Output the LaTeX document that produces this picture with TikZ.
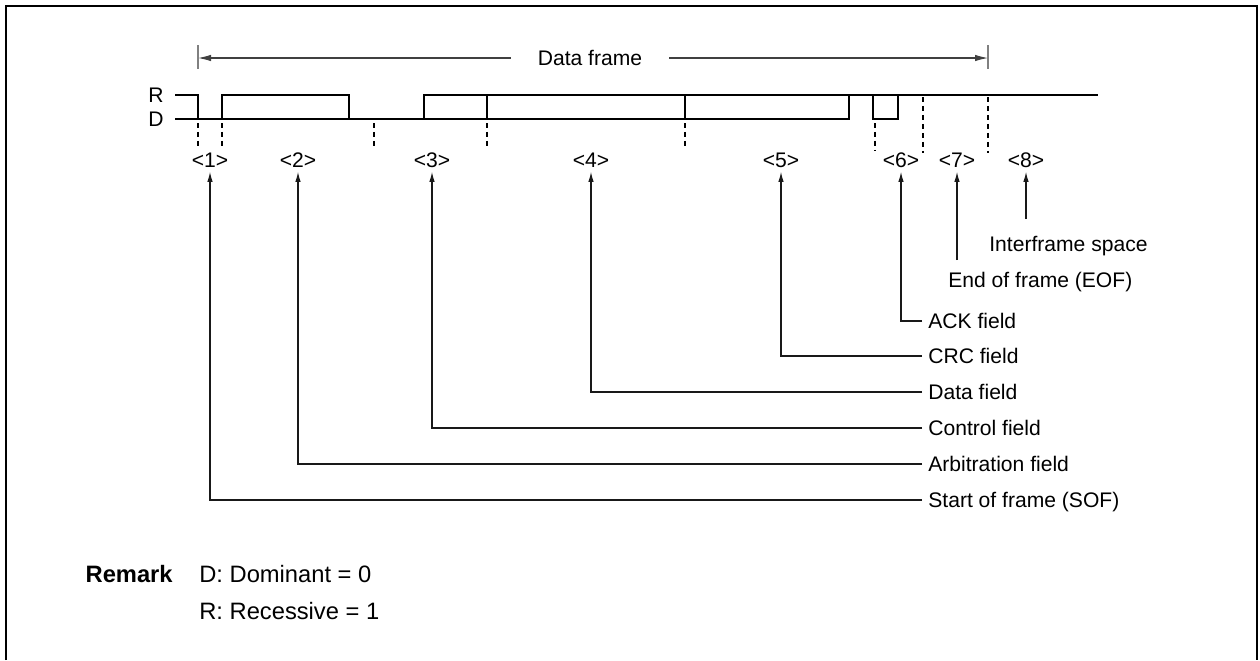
\documentclass[tikz,border=0pt]{standalone}
\usepackage{fontspec}
\setmainfont{Liberation Sans}
\usetikzlibrary{arrows.meta,calc}

\tikzset{
  wave/.style={line width=1.5pt, line join=miter},
  cut/.style={line width=0.8pt, dash pattern=on 2.8pt off 2.3pt},
  level/.style={inner sep=0pt, text height=8.6pt, text depth=0pt},
  fieldno/.style={inner xsep=0pt, inner ysep=0.08cm, text height=8.6pt, text depth=0pt},
  fieldname/.style={anchor=west, inner xsep=0.12cm, inner ysep=0pt, text height=8.6pt, text depth=0pt},
  pointer/.style={line width=0.6pt, black!90, -{Latex[length=0.2cm,width=0.11cm]}},
  span/.style={line width=0.6pt, black!75, -{Latex[length=0.26cm,width=0.13cm]}},
  remark/.style={inner sep=0pt, font=\fontsize{13.5pt}{16pt}\selectfont},
}

\begin{document}
\begin{tikzpicture}[x=0.02cm, y=-0.02cm, font=\fontsize{12pt}{14pt}\selectfont]
  \useasboundingbox (0,0) rectangle (1260,660);
  \draw[line width=1.4pt] (6,660) -- (6,6) -- (1257,6) -- (1257,660);

  % data frame span
  \node[inner xsep=0.54cm] (df) at (590,58) {Data frame};
  \coordinate (dfl) at (198,58);
  \coordinate (dfr) at (988,58);
  \draw[span] (df.west) -- (dfl);
  \draw[span] (df.east) -- (dfr);
  \draw[black!50, line width=0.8pt] (198,45) -- (198,69) (988,45) -- (988,69);

  % bus levels
  \node[level] (r) at (156,95) {R};
  \node[level] (d) at (156,119) {D};
  \draw[wave] (175,95) -- (198,95) -- (198,119);
  \draw[wave] (175,119) -- (849,119) -- (849,95);
  \draw[wave] (222,119) -- (222,95) -- (349,95) -- (349,119);
  \draw[wave] (424,119) -- (424,95) -- (1098,95);
  \draw[wave] (487,95) -- (487,119) (685,95) -- (685,119);
  \draw[wave] (873,95) -- (873,119) -- (898,119) -- (898,95);

  % field boundaries
  \foreach \x in {198,222,374,487,685}
    \draw[cut] (\x,123) -- (\x,149);
  \draw[cut] (875,123) -- (875,151);
  \draw[cut] (923,97) -- (923,153) (988,97) -- (988,153);

  % field numbers
  \foreach \n/\x in {1/210,2/298,3/432,4/591,5/781,6/901,7/957,8/1026}
    \node[fieldno] (l\n) at (\x,160) {\textless\n\textgreater};

  % field names
  \node[fieldname] (f1) at (922,500) {Start of frame (SOF)};
  \node[fieldname] (f2) at (922,464) {Arbitration field};
  \node[fieldname] (f3) at (922,428) {Control field};
  \node[fieldname] (f4) at (922,392) {Data field};
  \node[fieldname] (f5) at (922,356) {CRC field};
  \node[fieldname] (f6) at (922,321) {ACK field};
  \node[fieldname] (f7) at (942,280) {End of frame (EOF)};
  \node[fieldname] (f8) at (983,244) {Interframe space};

  \foreach \n in {1,...,6}
    \draw[pointer] (f\n.west) -| (l\n.south);
  \draw[pointer] ($(f7.north -| l7.south)+(0,-12)$) -- (l7.south);
  \draw[pointer] ($(f8.north -| l8.south)+(0,-17)$) -- (l8.south);

  % remark
  \node[remark, anchor=base east, font=\fontsize{13.5pt}{16pt}\selectfont\bfseries] (rmk) at (173,582) {Remark};
  \node[remark, anchor=base west] (dom) at (199,582) {D: Dominant = 0};
  \node[remark, anchor=base west] (rec) at (199,619) {R: Recessive = 1};
\end{tikzpicture}
\end{document}
